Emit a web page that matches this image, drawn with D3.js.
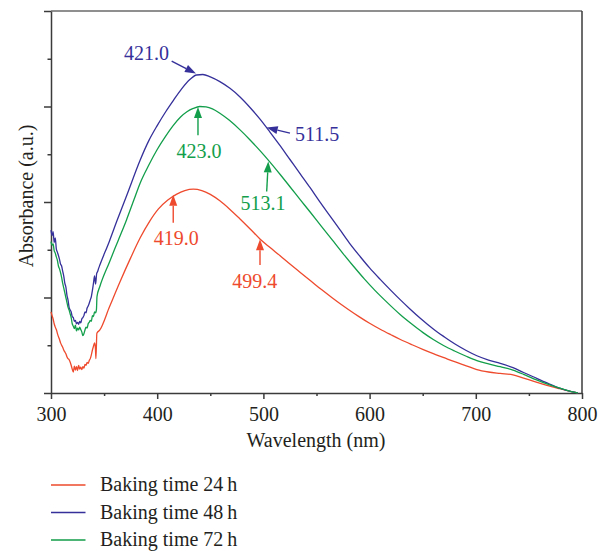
<!DOCTYPE html>
<html><head><meta charset="utf-8">
<script src="https://cdn.jsdelivr.net/npm/d3@7"></script>
<style>body{margin:0;background:#fff}svg{display:block}</style>
</head><body>
<script>
// ---- data ----
const xTicksMajor = [300, 400, 500, 600, 700, 800];
const xTicksMinor = [350, 450, 550, 650, 750];
const yTicksMajor = [0, 2, 4, 6, 8];
const yTicksMinor = [1, 3, 5, 7];
const seriesNames = ["Baking time 24\u2009h", "Baking time 48\u2009h", "Baking time 72\u2009h"];
const seriesColors = ["#ee4a2d", "#35309a", "#129e4a"];

const abs24h = [[300,1.70],[301,1.62],[302,1.55],[303,1.45],[304,1.38],[305,1.33],[306,1.25],[307,1.18],[308,1.12],[309,1.05],[310,1.00],[311,0.96],[312,0.90],[313,0.86],[314,0.82],[315,0.76],[316,0.72],[317,0.70],[318,0.65],[319,0.58],[320,0.50],[321,0.44],[322,0.56],[323,0.48],[324,0.55],[325,0.47],[326,0.58],[327,0.50],[328,0.54],[329,0.49],[330,0.55],[331,0.52],[332,0.60],[333,0.58],[334,0.64],[335,0.62],[336,0.68],[337,0.72],[338,0.80],[339,0.90],[340,0.98],[341,1.05],[341.8,0.95],[342.3,0.72],[343.2,1.25],[346,1.32],[355,1.80],[365,2.33],[375,2.83],[384,3.25],[393,3.60],[401,3.85],[410,4.04],[418,4.16],[426,4.24],[434,4.27],[442,4.24],[450,4.16],[459,4.025],[468,3.855],[478,3.645],[488,3.425],[497,3.22],[506,3.05],[516,2.87],[525,2.70],[535,2.52],[545,2.34],[555,2.16],[565,1.99],[572,1.875],[580,1.75],[590,1.60],[600,1.46],[610,1.335],[620,1.22],[629,1.12],[640,1.01],[650,0.915],[660,0.825],[670,0.74],[680,0.655],[691,0.57],[701,0.49],[712,0.44],[723,0.41],[735,0.38],[745,0.31],[754,0.25],[767,0.16],[779,0.09],[790,0.03],[796,0.0]];

const abs48h = [[300,3.41],[301,3.30],[302,3.38],[303,3.15],[304,3.25],[305,3.02],[306,2.95],[307,2.88],[308,2.80],[309,2.70],[310,2.66],[311,2.55],[312,2.45],[313,2.30],[314,2.22],[315,2.05],[316,1.95],[317,1.80],[318,1.74],[319,1.70],[320,1.60],[321,1.58],[322,1.50],[323,1.52],[324,1.45],[325,1.48],[326,1.44],[327,1.50],[328,1.47],[329,1.55],[330,1.58],[331,1.62],[332,1.70],[333,1.68],[334,1.78],[335,1.82],[336,1.88],[337,1.95],[338,2.02],[339,2.15],[340,2.30],[341,2.45],[342,2.28],[343,2.50],[344,2.55],[345,2.62],[346,2.68],[355,3.18],[362,3.60],[372,4.18],[384,4.88],[392,5.28],[400,5.60],[408,5.89],[415,6.12],[423,6.37],[431,6.57],[437,6.66],[443,6.67],[450,6.62],[459,6.52],[468.5,6.38],[478,6.20],[487.4,5.98],[497,5.73],[506,5.47],[515,5.20],[525,4.89],[535,4.58],[544,4.30],[553,4.01],[563,3.70],[572,3.42],[581,3.14],[591,2.86],[600,2.62],[610,2.38],[620,2.15],[629,1.95],[638,1.76],[648,1.56],[660,1.34],[670,1.18],[680,1.03],[691,0.89],[701,0.78],[712,0.69],[723,0.62],[735,0.53],[745,0.43],[754,0.34],[767,0.21],[779,0.10],[790,0.03],[796,0.0]];

const abs72h = [[300,3.17],[301,3.10],[302,3.12],[303,2.98],[304,2.93],[305,2.85],[306,2.78],[307,2.66],[308,2.60],[309,2.52],[310,2.42],[311,2.30],[312,2.20],[313,2.10],[314,2.00],[315,1.90],[316,1.80],[317,1.74],[318,1.66],[319,1.58],[320,1.45],[321,1.40],[322,1.35],[323,1.42],[324,1.30],[325,1.36],[326,1.32],[327,1.38],[328,1.33],[329,1.28],[330,1.20],[331,1.24],[332,1.32],[333,1.38],[334,1.36],[335,1.45],[336,1.48],[337,1.52],[338,1.50],[339,1.62],[340,1.60],[341,1.70],[342,1.68],[342.8,1.75],[343.3,2.02],[346,2.23],[355,2.74],[363,3.18],[371,3.62],[378,4.04],[384,4.40],[392,4.77],[400,5.10],[408,5.38],[415,5.60],[422,5.78],[428,5.89],[434,5.96],[440,6.00],[446,5.99],[452,5.95],[459,5.86],[468,5.71],[478,5.51],[487,5.31],[497,5.07],[506,4.84],[516,4.57],[525,4.32],[535,4.04],[544,3.79],[555,3.48],[565,3.20],[575,2.92],[585,2.65],[595,2.39],[605,2.15],[615,1.93],[629,1.64],[640,1.44],[650,1.27],[660,1.12],[670,0.99],[680,0.88],[691,0.77],[701,0.68],[712,0.61],[723,0.55],[735,0.48],[745,0.39],[754,0.30],[767,0.19],[779,0.10],[790,0.03],[796,0.0]];

// annotations: label, series index, tip point (wavelength, absorbance)
const annoLabels = ["421.0", "511.5", "423.0", "513.1", "419.0", "499.4"];
const annoSeries = [1, 1, 2, 2, 0, 0];
const annoTips = [[436.5, 6.69], [503.1, 5.56], [438.4, 5.99], [504.6, 4.85], [415.1, 4.15], [496.8, 3.22]];

// ---- drawing ----
const W = 607, H = 551;
const svg = d3.select("body").append("svg").attr("width", W).attr("height", H);
const font = "'Liberation Serif','Times New Roman',serif";
const axisColor = "#3b3b3b";

const x = d3.scaleLinear().domain([300, 800]).range([51, 582]);
const y = d3.scaleLinear().domain([0, 8]).range([393, 11]);

// frame top/right
svg.append("line").attr("x1", x(300)).attr("x2", x(800)).attr("y1", y(8)).attr("y2", y(8))
  .attr("stroke", "#6a6a6a").attr("stroke-width", 1.6);
svg.append("line").attr("x1", x(800)).attr("x2", x(800)).attr("y1", y(8)).attr("y2", y(0))
  .attr("stroke", axisColor).attr("stroke-width", 1.5);

// y axis
const gyMaj = svg.append("g").attr("transform", `translate(${x(300)},0)`)
  .call(d3.axisLeft(y).tickValues(yTicksMajor).tickSize(7).tickSizeOuter(0).tickFormat(""));
const gyMin = svg.append("g").attr("transform", `translate(${x(300)},0)`)
  .call(d3.axisLeft(y).tickValues(yTicksMinor).tickSize(3.5).tickSizeOuter(0).tickFormat(""));
gyMin.select(".domain").remove();

// x axis
const gxMaj = svg.append("g").attr("transform", `translate(0,${y(0)})`)
  .call(d3.axisBottom(x).tickValues(xTicksMajor).tickSize(6).tickSizeOuter(0).tickFormat(d3.format("d")));
const gxMin = svg.append("g").attr("transform", `translate(0,${y(0)})`)
  .call(d3.axisBottom(x).tickValues(xTicksMinor).tickSize(3).tickSizeOuter(0).tickFormat(""));
gxMin.select(".domain").remove();

[gyMaj, gyMin, gxMaj, gxMin].forEach(g => {
  g.selectAll("path,line").attr("stroke", axisColor).attr("stroke-width", 1.5);
});
gxMaj.selectAll("text").attr("y", 28).attr("dy", 0)
  .attr("font-family", font).attr("font-size", 20).attr("fill", "#231f20");

// axis titles
svg.append("text").attr("x", 316).attr("y", 447).attr("text-anchor", "middle")
  .attr("font-family", font).attr("font-size", 20).attr("fill", "#231f20").text("Wavelength (nm)");
svg.append("text").attr("transform", "translate(33,196) rotate(-90)").attr("text-anchor", "middle")
  .attr("font-family", font).attr("font-size", 20).attr("fill", "#231f20").text("Absorbance (a.u.)");

// curves
const allSeries = [abs24h, abs48h, abs72h];
const line = d3.line().x(d => x(d[0])).y(d => y(d[1])).curve(d3.curveMonotoneX);
allSeries.forEach((s, i) => {
  svg.append("path").datum(s).attr("d", line).attr("fill", "none")
    .attr("stroke", seriesColors[i]).attr("stroke-width", 1.3).attr("stroke-linejoin", "round");
});

// annotations (tail offset, text offset, anchor) in px relative to tip
const annoLayout = [
  {tail: [-24.3, -12.5], text: [-27, -13.5], anchor: "end"},
  {tail: [23.3, 5.6], text: [28.3, 13.3], anchor: "start"},
  {tail: [0, 28.3], text: [1, 51.3], anchor: "middle"},
  {tail: [-1.6, 30], text: [-5.3, 48.3], anchor: "middle"},
  {tail: [0, 28], text: [3, 50], anchor: "middle"},
  {tail: [0, 25.7], text: [-5.3, 48.7], anchor: "middle"}
];
annoLabels.forEach((lab, i) => {
  const c = seriesColors[annoSeries[i]];
  const tx = x(annoTips[i][0]), ty = y(annoTips[i][1]);
  const L = annoLayout[i];
  const sx = tx + L.tail[0], sy = ty + L.tail[1];
  const ang = Math.atan2(ty - sy, tx - sx);
  const hl = 11, hw = 4;
  const bx = tx - hl * Math.cos(ang), by = ty - hl * Math.sin(ang);
  svg.append("line").attr("x1", sx).attr("y1", sy).attr("x2", bx).attr("y2", by)
    .attr("stroke", c).attr("stroke-width", 1.4);
  const px = -Math.sin(ang), py = Math.cos(ang);
  svg.append("path").attr("d", `M${tx},${ty}L${bx + hw * px},${by + hw * py}L${bx - hw * px},${by - hw * py}Z`)
    .attr("fill", c);
  svg.append("text").attr("x", tx + L.text[0]).attr("y", ty + L.text[1]).attr("text-anchor", L.anchor)
    .attr("font-family", font).attr("font-size", 20).attr("fill", c).text(lab);
});

// legend
const legY = [485, 512.5, 540];
seriesNames.forEach((n, i) => {
  svg.append("line").attr("x1", 51).attr("x2", 85.5).attr("y1", legY[i]).attr("y2", legY[i])
    .attr("stroke", seriesColors[i]).attr("stroke-width", 1.4);
  svg.append("text").attr("x", 100).attr("y", legY[i] + 6).attr("font-family", font)
    .attr("font-size", 20).attr("fill", "#231f20").text(n);
});
</script>
</body></html>
